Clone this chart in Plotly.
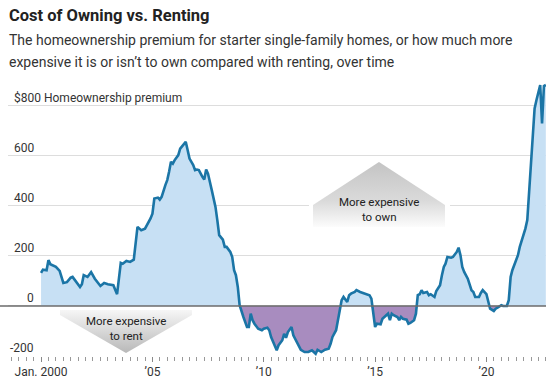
import base64
import pandas as pd
import plotly.graph_objects as go

# ---------------- data ----------------
DATES = [
    "2000-01", "2000-02", "2000-04", "2000-05", "2000-06", "2000-09", "2000-11",
    "2001-01", "2001-03", "2001-05", "2001-06", "2001-08", "2001-10", "2001-11", "2001-12",
    "2002-02", "2002-04", "2002-06", "2002-09", "2002-11",
    "2003-01", "2003-04", "2003-06", "2003-08", "2003-09", "2003-11",
    "2004-01", "2004-03", "2004-05", "2004-07", "2004-09", "2004-12",
    "2005-01", "2005-02", "2005-04", "2005-05", "2005-06", "2005-08", "2005-09", "2005-10", "2005-11", "2005-12",
    "2006-01", "2006-03", "2006-04", "2006-06", "2006-07", "2006-08", "2006-09", "2006-11", "2006-12",
    "2007-01", "2007-02", "2007-04", "2007-05", "2007-06", "2007-07", "2007-09", "2007-11", "2007-12",
    "2008-01", "2008-03", "2008-04", "2008-05", "2008-07", "2008-08", "2008-09", "2008-10", "2008-11", "2008-12",
    "2009-01", "2009-02", "2009-04", "2009-05", "2009-06", "2009-07", "2009-08", "2009-10", "2009-12",
    "2010-01", "2010-03", "2010-04", "2010-05", "2010-07", "2010-08", "2010-09", "2010-11", "2010-12",
    "2011-01", "2011-02", "2011-04", "2011-05", "2011-06", "2011-08", "2011-09", "2011-11",
    "2012-01", "2012-03", "2012-05", "2012-06", "2012-08", "2012-10", "2012-12",
    "2013-01", "2013-02", "2013-04", "2013-05", "2013-06", "2013-07", "2013-08", "2013-10", "2013-11", "2013-12",
    "2014-02", "2014-03", "2014-05", "2014-07", "2014-08", "2014-10", "2014-11", "2014-12",
    "2015-01", "2015-02", "2015-04", "2015-05", "2015-06", "2015-08", "2015-09", "2015-10", "2015-11",
    "2016-01", "2016-02", "2016-03", "2016-04", "2016-06", "2016-07", "2016-08", "2016-10", "2016-11", "2016-12",
    "2017-01", "2017-02", "2017-03", "2017-05", "2017-06", "2017-07", "2017-09", "2017-10", "2017-12",
    "2018-01", "2018-02", "2018-03", "2018-04", "2018-06", "2018-07", "2018-09", "2018-10", "2018-11", "2018-12",
    "2019-01", "2019-03", "2019-05", "2019-06", "2019-07", "2019-09", "2019-10", "2019-11",
    "2020-01", "2020-02", "2020-03", "2020-05", "2020-06", "2020-07", "2020-09", "2020-10", "2020-12",
    "2021-01", "2021-02", "2021-03", "2021-05", "2021-06", "2021-07", "2021-09", "2021-10", "2021-11", "2021-12",
    "2022-01", "2022-02", "2022-03", "2022-04", "2022-06", "2022-07", "2022-08", "2022-09",
]
PREMIUM = [
    132, 145, 143, 183, 167, 156, 140,
    92, 95, 113, 116, 96, 76, 87, 123,
    116, 135, 109, 80, 92,
    87, 83, 47, 172, 169, 180,
    176, 185, 316, 303, 309, 350,
    369, 429, 433, 425, 436, 483, 503, 536, 576, 569,
    583, 603, 629, 647, 656, 623, 589, 563, 543,
    545, 543, 516, 505, 545, 529, 463, 396, 343,
    283, 265, 236, 236, 216, 196, 143, 123, 76, 3,
    -17, -44, -84, -84, -31, -57, -71, -91, -97,
    -91, -87, -97, -124, -157, -177, -157, -137, -111,
    -127, -104, -84, -117, -131, -157, -175, -184,
    -184, -177, -191, -175, -184, -175, -171,
    -151, -124, -97, -57, -4, 23, 36, 16, 43, 49,
    56, 63, 56, 52, 49, 43, 29, -31,
    -84, -71, -73, -51, -44, -31, -57, -31, -37,
    -44, -57, -44, -51, -55, -71, -68, -57, -31, 43,
    47, 63, 52, 56, 43, 47, 36, 60, 83,
    123, 156, 169, 196, 193, 196, 216, 233, 203, 156,
    136, 109, 63, 56, 36, 36, 52, 63,
    47, 16, -11, -20, -11, -7, 3, 0, 0,
    23, 116, 143, 183, 203, 236, 283, 309, 343, 449,
    583, 676, 789, 823, 883, 729, 879, 883,
]
Y_TICKS = [-200, 0, 200, 400, 600, 800]
Y_TICK_TEXT = ["-200", "0", "200", "400", "600", "$800 Homeownership premium"]
X_TICKS = ["2000-01-01", "2005-01-01", "2010-01-01", "2015-01-01", "2020-01-01"]
X_TICK_TEXT = ["Jan. 2000", "\u201905", "\u201910", "\u201915", "\u201920"]

TITLE = "Cost of Owning vs. Renting"
SUBTITLE_LINES = ["The homeownership premium for starter single-family homes, or how much more",
                  "expensive it is or isn\u2019t to own compared with renting, over time"]

# ---------------- layout geometry ----------------
W, H = 560, 387
L, R, T, B = 8, 14, 82, 31
PW, PH = W - L - R, H - T - B
FONT = "Roboto, Lato, sans-serif"
LINE = "#1b75a6"
POS_FILL = "#c7e0f4"
NEG_FILL = "#a88cbf"


def px2x(px):
    return (px - L) / PW


def py2y(py):
    return (H - B - py) / PH


dates = pd.to_datetime(DATES)
pos = [max(v, 0) for v in PREMIUM]
neg = [min(v, 0) for v in PREMIUM]

fig = go.Figure()
fig.add_trace(go.Scatter(x=dates, y=pos, mode="lines", line=dict(width=0, color=POS_FILL),
                         fill="tozeroy", fillcolor=POS_FILL, hoverinfo="skip", showlegend=False))
fig.add_trace(go.Scatter(x=dates, y=neg, mode="lines", line=dict(width=0, color=NEG_FILL),
                         fill="tozeroy", fillcolor=NEG_FILL, hoverinfo="skip", showlegend=False))
fig.add_trace(go.Scatter(x=dates, y=PREMIUM, mode="lines", line=dict(width=2.6, color=LINE),
                         showlegend=False))

# zero line
fig.add_shape(type="line", xref="paper", yref="y", x0=-L / PW, x1=1, y0=0, y1=0,
              line=dict(color="#6b6b6b", width=1.6), layer="above")


def svg_uri(svg):
    return "data:image/svg+xml;base64," + base64.b64encode(svg.encode()).decode()


own_svg = (
    '<svg xmlns="http://www.w3.org/2000/svg" width="141" height="70" viewBox="0 0 141 70">'
    '<defs><linearGradient id="g" x1="0" y1="0" x2="0" y2="1">'
    '<stop offset="0" stop-color="#c4c4c4"/><stop offset="0.6" stop-color="#dadada"/>'
    '<stop offset="1" stop-color="#fcfcfc"/></linearGradient></defs>'
    '<rect x="0" y="38" width="141" height="32" fill="#ffffff"/>'
    '<polygon points="4,67 4,45 70,2 136,45 136,67" fill="url(#g)"/></svg>'
)
rent_svg = (
    '<svg xmlns="http://www.w3.org/2000/svg" width="132" height="43" viewBox="0 0 132 43">'
    '<defs><linearGradient id="g" x1="0" y1="0" x2="0" y2="1">'
    '<stop offset="0" stop-color="#f6f6f6"/><stop offset="1" stop-color="#b8b8b8"/>'
    '</linearGradient></defs>'
    '<polygon points="0,0 132,0 132,5 66,43 0,5" fill="url(#g)"/></svg>'
)
fig.add_layout_image(source=svg_uri(own_svg), xref="paper", yref="paper",
                     x=px2x(309), y=py2y(160), sizex=141 / PW, sizey=70 / PH,
                     xanchor="left", yanchor="top", sizing="stretch", layer="above")
fig.add_layout_image(source=svg_uri(rent_svg), xref="paper", yref="paper",
                     x=px2x(60), y=py2y(310), sizex=132 / PW, sizey=43 / PH,
                     xanchor="left", yanchor="top", sizing="stretch", layer="above")

ann = []
ann.append(dict(text="<b>" + TITLE + "</b>", x=px2x(7), y=py2y(15), xref="paper", yref="paper",
                xanchor="left", yanchor="middle", showarrow=False,
                font=dict(family=FONT, size=16.5, color="#222222")))
for i, line in enumerate(SUBTITLE_LINES):
    ann.append(dict(text=line, x=px2x(7), y=py2y(40 + 22 * i), xref="paper", yref="paper",
                    xanchor="left", yanchor="middle", showarrow=False, align="left",
                    font=dict(family=FONT, size=14, color="#333333")))
for v, t in zip(Y_TICKS, Y_TICK_TEXT):
    if v == Y_TICKS[-1]:
        pos_kw = dict(x=px2x(12), xanchor="left")
    else:
        pos_kw = dict(x=px2x(36), xanchor="right")
    ann.append(dict(text=t, y=v, xref="paper", yref="y", yanchor="bottom", yshift=-1,
                    showarrow=False, font=dict(family=FONT, size=12, color="#333333"), **pos_kw))
ann.append(dict(text="More expensive<br>to own", x=px2x(379), y=py2y(209), xref="paper", yref="paper",
                xanchor="center", yanchor="middle", showarrow=False,
                font=dict(family=FONT, size=11.5, color="#222222")))
ann.append(dict(text="More expensive<br>to rent", x=px2x(126), y=py2y(328), xref="paper", yref="paper",
                xanchor="center", yanchor="middle", showarrow=False,
                font=dict(family=FONT, size=11.5, color="#222222")))

fig.update_layout(
    width=W, height=H, margin=dict(l=L, r=R, t=T, b=B),
    paper_bgcolor="white", plot_bgcolor="white",
    annotations=ann, showlegend=False,
    xaxis=dict(type="date", range=["1998-07-08", "2022-09-04"], showgrid=False, zeroline=False,
               tickvals=X_TICKS, ticktext=X_TICK_TEXT, ticks="outside", ticklen=5, tickwidth=1,
               tickcolor="#888888", showline=False,
               tickfont=dict(family=FONT, size=12, color="#333333"),
               minor=dict(dtick="M4", tick0="2000-01-01", ticks="outside", ticklen=4,
                          tickcolor="#999999", showgrid=False)),
    yaxis=dict(range=[-200, 895], tickvals=Y_TICKS, showticklabels=False, showgrid=True,
               gridcolor="#dddddd", gridwidth=1, zeroline=False, ticks=""),
)

fig.write_html("out.html", config={"displayModeBar": False},
               post_script="document.body.style.margin='0';")
